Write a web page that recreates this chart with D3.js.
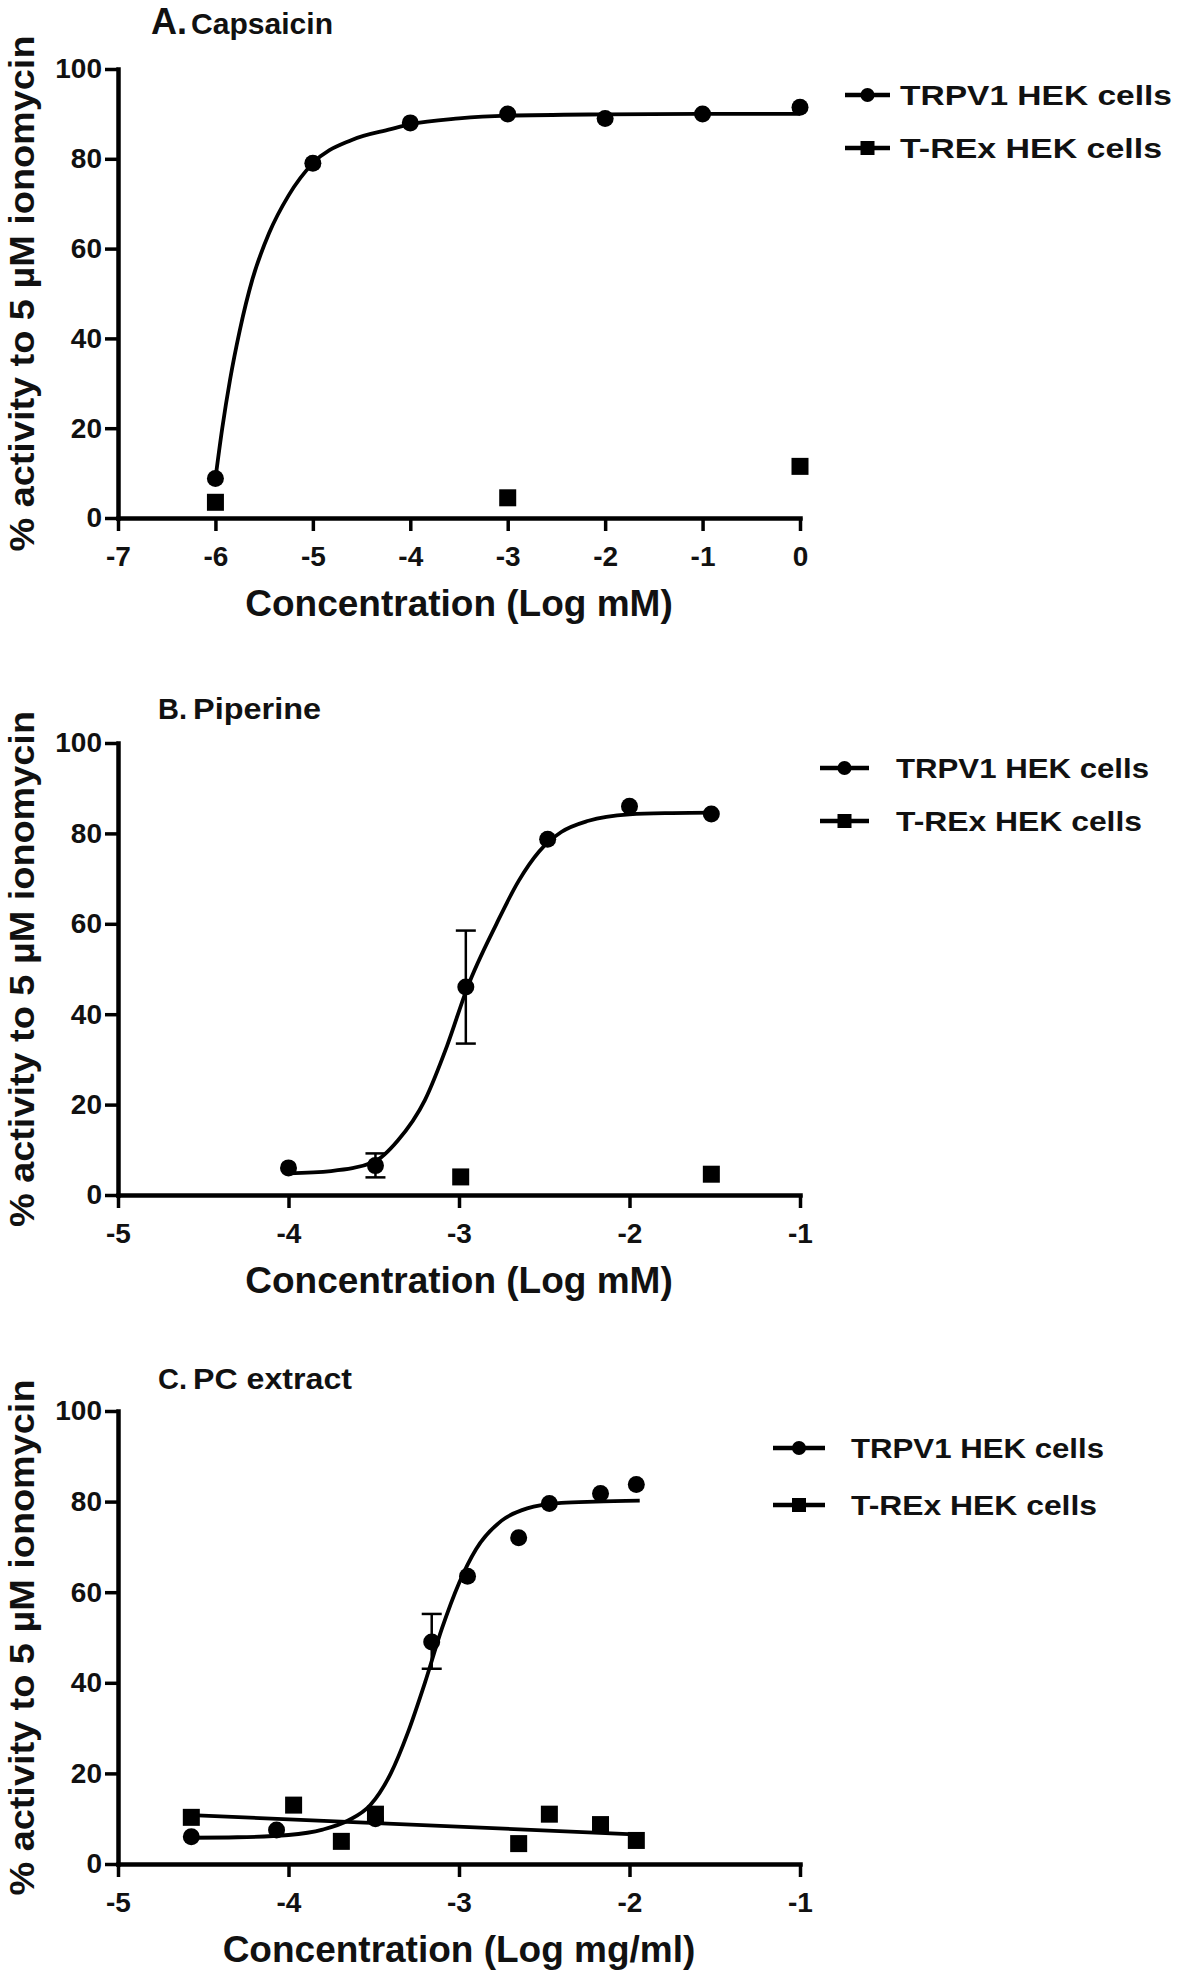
<!DOCTYPE html>
<html><head><meta charset="utf-8">
<script src="https://cdnjs.cloudflare.com/ajax/libs/d3/7.8.5/d3.min.js"></script>
<style>body{margin:0;background:#fff}svg{display:block}text{font-family:"Liberation Sans",Arial,sans-serif;font-weight:bold;fill:#111}</style>
</head><body><svg id="c" width="1181" height="1975"></svg>
<script>
// ---------- data ----------
const yTicks = [0, 20, 40, 60, 80, 100];
const legendLabels = ["TRPV1 HEK cells", "T-REx HEK cells"];
const yLabel = "% activity to 5 \u00b5M ionomycin";

// Panel A: Capsaicin
const aTitle = ["A.", "Capsaicin"];
const aXLabel = "Concentration (Log mM)";
const aXTicks = [-7, -6, -5, -4, -3, -2, -1, 0];
const aTrpvX = [-6, -5, -4, -3, -2, -1, 0];
const aTrpvY = [8.8, 79, 88, 90, 89, 90, 91.5];
const aTrexX = [-6, -3, 0];
const aTrexY = [3.5, 4.5, 11.5];
const aFitX = [-6, -5.93, -5.85, -5.75, -5.62, -5.45, -5.25, -5, -4.6, -4.2, -4, -3.5, -3, -2, -1, 0];
const aFitY = [8.8, 20, 30.8, 41.8, 53.2, 63.4, 71.8, 79, 84.2, 86.6, 87.7, 89, 89.6, 89.9, 90, 90];

// Panel B: Piperine
const bTitle = ["B.", "Piperine"];
const bXLabel = "Concentration (Log mM)";
const bXTicks = [-5, -4, -3, -2, -1];
const bTrpvX = [-4, -3.49, -2.96, -2.48, -2, -1.52];
const bTrpvY = [6, 6.5, 46, 78.7, 86, 84.3];
const bErrX = [-3.49, -2.96];
const bErrLo = [3.9, 33.5];
const bErrHi = [9.2, 58.5];
const bTrexX = [-2.99, -1.52];
const bTrexY = [4.0, 4.6];
const bFitX = [-4, -3.75, -3.5, -3.36, -3.2, -3.07, -2.95, -2.78, -2.65, -2.53, -2.4, -2.24, -2, -1.75, -1.5];
const bFitY = [4.8, 5.3, 7.3, 12, 21, 33, 46, 60, 69.5, 76, 80.3, 82.8, 84.2, 84.5, 84.6];

// Panel C: PC extract
const cTitle = ["C.", "PC extract"];
const cXLabel = "Concentration (Log mg/ml)";
const cXTicks = [-5, -4, -3, -2, -1];
const cTrpvX = [-4.57, -4.07, -3.49, -3.16, -2.95, -2.65, -2.47, -2.17, -1.96];
const cTrpvY = [6.0, 7.5, 10.0, 49, 63.5, 72, 79.6, 81.8, 83.8];
const cErrX = [-3.16];
const cErrLo = [43.1];
const cErrHi = [55.2];
const cTrexX = [-4.57, -3.97, -3.69, -3.49, -2.65, -2.47, -2.17, -1.96];
const cTrexY = [10.3, 13, 5.0, 11, 4.5, 11, 8.7, 5.2];
const cFitX = [-4.57, -4.3, -4.0, -3.8, -3.65, -3.52, -3.4, -3.3, -3.2, -3.1, -3.0, -2.9, -2.75, -2.6, -2.4, -2.2, -1.94];
const cFitY = [5.8, 5.9, 6.4, 7.6, 9.6, 13, 20, 29, 40, 52, 62, 69.5, 75.8, 78.5, 79.7, 80, 80.2];
const cTrexFitX = [-4.57, -1.94];
const cTrexFitY = [10.8, 6.5];

// ---------- layout ----------
const svg = d3.select("#c");
svg.append("rect").attr("width", 1181).attr("height", 1975).attr("fill", "#fff");

const zip = (xs, ys) => xs.map((x, i) => [x, ys[i]]);

const panels = [
  { title: aTitle, titleX: [151, 191], titleY: 34, letterSize: 36, subLen: 142, xLabel: aXLabel, xTicks: aXTicks,
    xDom: [-7, 0], top: 69, bottom: 518,
    trpv: zip(aTrpvX, aTrpvY), trex: zip(aTrexX, aTrexY), fit: zip(aFitX, aFitY), trexFit: null, err: [],
    leg: { x1: 845, x2: 890, tx: 900, y: [95, 148], len: [272, 262] } },
  { title: bTitle, titleX: [158, 193], titleY: 719, letterSize: 29, subLen: 128, xLabel: bXLabel, xTicks: bXTicks,
    xDom: [-5, -1], top: 743, bottom: 1195,
    trpv: zip(bTrpvX, bTrpvY), trex: zip(bTrexX, bTrexY), fit: zip(bFitX, bFitY), trexFit: null,
    err: bErrX.map((x, i) => [x, bErrLo[i], bErrHi[i]]),
    leg: { x1: 820, x2: 869, tx: 896, y: [768, 821], len: [253, 246] } },
  { title: cTitle, titleX: [158, 193], titleY: 1389, letterSize: 29, subLen: 159, xLabel: cXLabel, xTicks: cXTicks,
    xDom: [-5, -1], top: 1411, bottom: 1864,
    trpv: zip(cTrpvX, cTrpvY), trex: zip(cTrexX, cTrexY), fit: zip(cFitX, cFitY),
    trexFit: zip(cTrexFitX, cTrexFitY),
    err: cErrX.map((x, i) => [x, cErrLo[i], cErrHi[i]]),
    leg: { x1: 773, x2: 825, tx: 851, y: [1448, 1505], len: [253, 246] } }
];

const left = 118, right = 800;

panels.forEach(p => {
  const x = d3.scaleLinear().domain(p.xDom).range([left, right]);
  const y = d3.scaleLinear().domain([0, 100]).range([p.bottom, p.top]);
  const g = svg.append("g");

  // title
  g.append("text").attr("x", p.titleX[0]).attr("y", p.titleY).attr("font-size", p.letterSize).text(p.title[0]);
  g.append("text").attr("x", p.titleX[1]).attr("y", p.titleY).attr("font-size", 30)
    .attr("textLength", p.subLen).attr("lengthAdjust", "spacingAndGlyphs").text(p.title[1]);

  // axes
  const yAxis = d3.axisLeft(y).tickValues(yTicks).tickSize(13).tickSizeOuter(0).tickPadding(3)
    .tickFormat(d => String(d));
  const xAxis = d3.axisBottom(x).tickValues(p.xTicks).tickSize(13).tickSizeOuter(0).tickPadding(15)
    .tickFormat(d => String(d));
  const ga = g.append("g").attr("transform", `translate(${left},0)`).call(yAxis);
  const gb = g.append("g").attr("transform", `translate(0,${p.bottom})`).call(xAxis);
  [ga, gb].forEach(a => {
    a.select(".domain").attr("stroke", "#000").attr("stroke-width", 4.5).attr("stroke-linecap", "square");
    a.selectAll(".tick line").attr("stroke", "#000").attr("stroke-width", 3.5);
    a.selectAll(".tick text").attr("font-size", 28).attr("font-family", "Liberation Sans, Arial, sans-serif")
      .attr("font-weight", "bold").attr("fill", "#111");
  });

  // axis titles
  g.append("text").attr("x", (left + right) / 2).attr("y", p.bottom + 98).attr("text-anchor", "middle")
    .attr("font-size", 37).text(p.xLabel);
  g.append("text").attr("transform", `translate(34,${(p.top + p.bottom) / 2}) rotate(-90)`)
    .attr("text-anchor", "middle").attr("font-size", 35)
    .attr("textLength", 516).attr("lengthAdjust", "spacingAndGlyphs").text(yLabel);

  // fitted curves
  const line = d3.line().x(d => x(d[0])).y(d => y(d[1])).curve(d3.curveMonotoneX);
  g.append("path").attr("d", line(p.fit)).attr("fill", "none").attr("stroke", "#000").attr("stroke-width", 3.8);
  if (p.trexFit) g.append("path").attr("d", d3.line().x(d => x(d[0])).y(d => y(d[1]))(p.trexFit))
    .attr("fill", "none").attr("stroke", "#000").attr("stroke-width", 3.8);

  // error bars
  p.err.forEach(e => {
    const ex = x(e[0]);
    g.append("line").attr("x1", ex).attr("x2", ex).attr("y1", y(e[1])).attr("y2", y(e[2]))
      .attr("stroke", "#000").attr("stroke-width", 2.5);
    [e[1], e[2]].forEach(v => g.append("line").attr("x1", ex - 10).attr("x2", ex + 10)
      .attr("y1", y(v)).attr("y2", y(v)).attr("stroke", "#000").attr("stroke-width", 2.5));
  });

  // markers
  g.selectAll(null).data(p.trex).join("rect").attr("x", d => x(d[0]) - 8.5).attr("y", d => y(d[1]) - 8.5)
    .attr("width", 17).attr("height", 17).attr("fill", "#000");
  g.selectAll(null).data(p.trpv).join("circle").attr("cx", d => x(d[0])).attr("cy", d => y(d[1]))
    .attr("r", 8.5).attr("fill", "#000");

  // legend
  legendLabels.forEach((lab, i) => {
    const ly = p.leg.y[i];
    g.append("line").attr("x1", p.leg.x1).attr("x2", p.leg.x2).attr("y1", ly).attr("y2", ly)
      .attr("stroke", "#000").attr("stroke-width", 4.5);
    const cx = (p.leg.x1 + p.leg.x2) / 2;
    if (i === 0) g.append("circle").attr("cx", cx).attr("cy", ly).attr("r", 7).attr("fill", "#000");
    else g.append("rect").attr("x", cx - 7).attr("y", ly - 7).attr("width", 14).attr("height", 14).attr("fill", "#000");
    g.append("text").attr("x", p.leg.tx).attr("y", ly + 10).attr("font-size", 28)
      .attr("textLength", p.leg.len[i]).attr("lengthAdjust", "spacingAndGlyphs").text(lab);
  });
});
</script></body></html>
